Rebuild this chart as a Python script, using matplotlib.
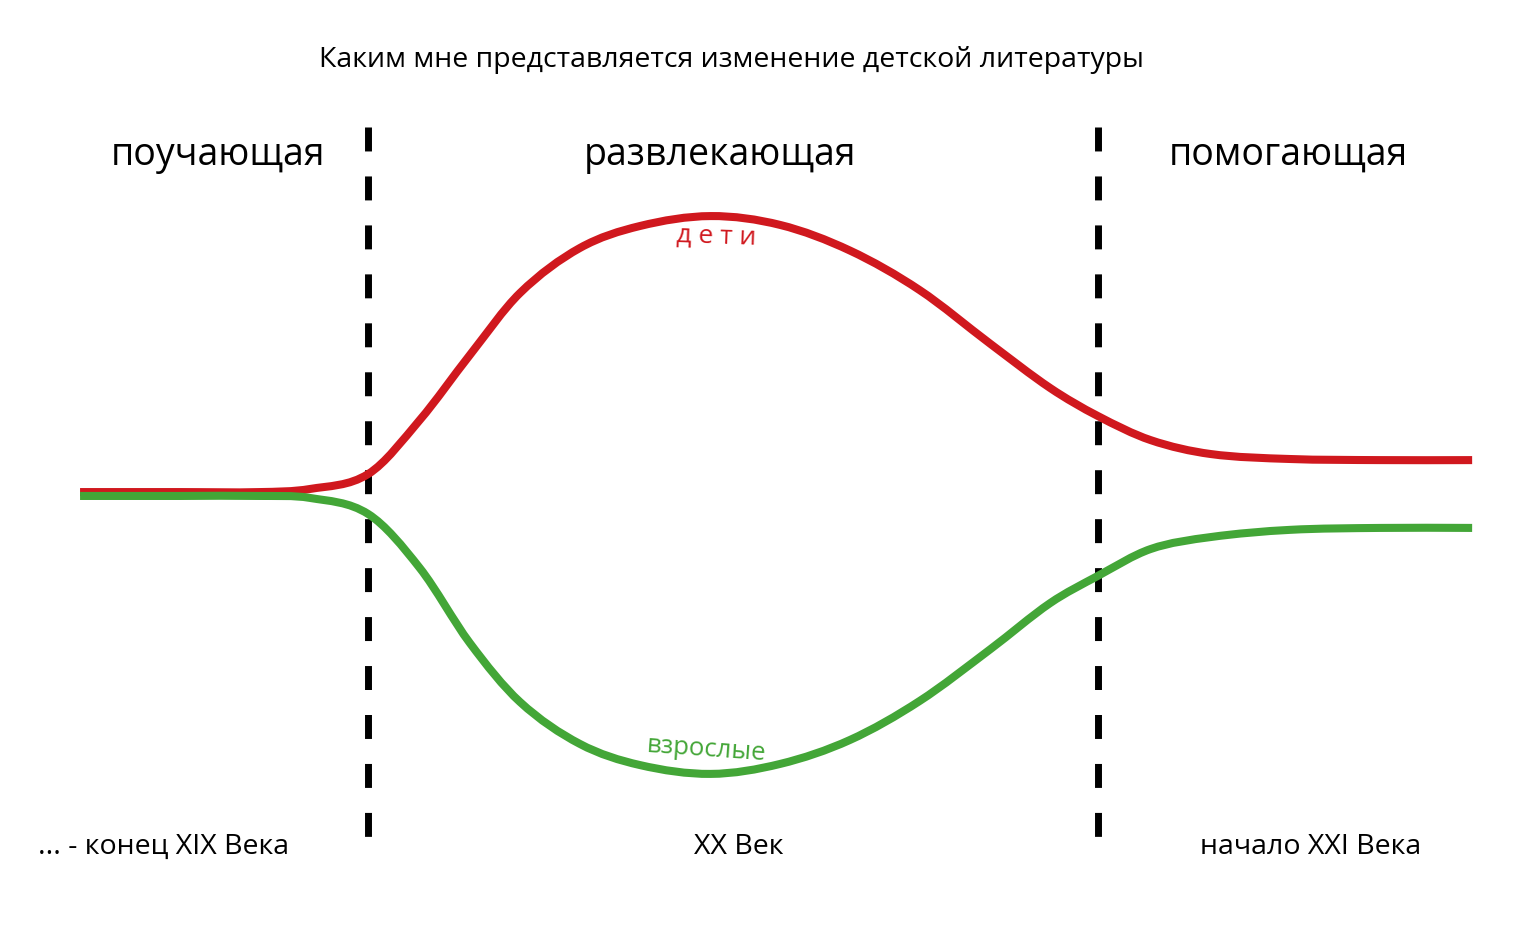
import matplotlib
matplotlib.use("Agg")
import matplotlib.pyplot as plt
from matplotlib.path import Path
from matplotlib.patches import PathPatch

plt.rcParams['font.family'] = ['Open Sans', 'DejaVu Sans']

# time axis (arbitrary units, 0 = left end, 100 = right end)
x = [0, 7.2, 12.9, 16.5, 20.7, 24.4, 28.0, 31.6, 35.9, 40.2, 45.3,
     50.3, 55.3, 60.3, 65.4, 69.7, 73.1, 76.9, 81.2, 86.9, 93.4, 100]

# "дети" curve
kids = [0.7, 0.7, 0.7, 1.8, 7.2, 26.6, 50.0, 72.3, 88.5, 96.4, 100.0,
        96.8, 87.6, 73.4, 54.0, 38.1, 28.1, 19.4, 14.4, 12.6, 12.2, 12.2]

# "взрослые" curve
adults = [-0.7, -0.7, -0.7, -1.4, -7.2, -26.6, -53.6, -74.8, -89.9,
          -97.5, -100.7, -97.1, -88.5, -74.5, -55.8, -39.2, -29.5, -19.8,
          -15.5, -12.9, -12.2, -12.2]

dividers = [20.7, 73.1]
periods = ['поучающая', 'развлекающая', 'помогающая']
period_x = [9.9, 46.0, 86.8]
eras = ['... - конец XIX Века', 'XX Век', 'начало XXI Века']
era_x = [6.0, 47.3, 88.4]

RED = '#D0181E'
GREEN = '#43A637'


def smooth_path(xs, ys):
    """Cubic Hermite bezier path through the points."""
    n = len(xs)
    slopes = []
    for i in range(n):
        a = max(i - 1, 0)
        b = min(i + 1, n - 1)
        slopes.append((ys[b] - ys[a]) / (xs[b] - xs[a]))
    verts = [(xs[0], ys[0])]
    codes = [Path.MOVETO]
    for i in range(n - 1):
        h = (xs[i + 1] - xs[i]) / 3
        verts += [(xs[i] + h, ys[i] + slopes[i] * h),
                  (xs[i + 1] - h, ys[i + 1] - slopes[i + 1] * h),
                  (xs[i + 1], ys[i + 1])]
        codes += [Path.CURVE4] * 3
    return Path(verts, codes)


fig = plt.figure(figsize=(15.32, 9.45), dpi=100)
ax = fig.add_axes([0, 0, 1, 1])
ax.set_xlim(-5.75, 104.3)
ax.set_ylim(-161.9, 178.1)
ax.axis('off')

for ys, col in [(kids, RED), (adults, GREEN)]:
    ax.add_patch(PathPatch(smooth_path(x, ys), facecolor='none', edgecolor=col,
                           lw=5.8, capstyle='butt', zorder=3))

for d in dividers:
    ax.plot([d, d], [132, -126.8], color='black', lw=5,
            linestyle=(0, (3.45, 3.6)), zorder=2)

ax.text(46.8, 156.5, 'Каким мне представляется изменение детской литературы',
        ha='center', va='center', fontsize=20.5)

for lbl, px in zip(periods, period_x):
    ax.text(px, 122.3, lbl, ha='center', va='center', fontsize=27)

for lbl, px in zip(eras, era_x):
    ax.text(px, -126.5, lbl, ha='center', va='center', fontsize=20.5)

ax.text(45.7, 93.0, 'д е т и', ha='center', va='center', fontsize=19,
        color=RED, rotation=-2)
ax.text(45.0, -91.5, 'взрослые', ha='center', va='center', fontsize=18.5,
        color=GREEN, rotation=-4)

fig.savefig('out.png', dpi=100, facecolor='white')
